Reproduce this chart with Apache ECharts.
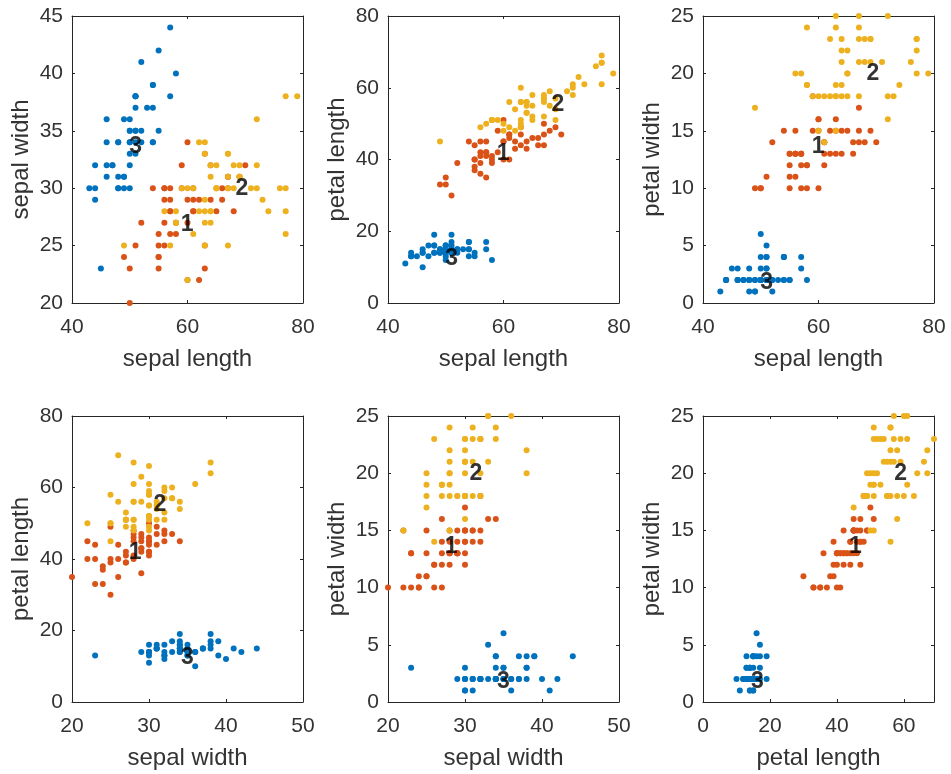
<!DOCTYPE html>
<html>
<head>
<meta charset="utf-8">
<script src="https://cdn.jsdelivr.net/npm/echarts@6/dist/echarts.min.js"></script>
<style>html,body{margin:0;padding:0;background:#fff}#c{width:951px;height:774px}</style>
</head>
<body>
<div id="c"></div>
<script>
// Iris measurements (mm), by species
const setosaSepalLength = [51,49,47,46,50,54,46,50,44,49,54,48,48,43,58,57,54,51,57,51,54,51,46,51,48,50,50,52,52,47,48,54,52,55,49,50,55,49,44,51,50,45,44,50,51,48,51,46,53,50];
const setosaSepalWidth  = [35,30,32,31,36,39,34,34,29,31,37,34,30,30,40,44,39,35,38,38,34,37,36,33,34,30,34,35,34,32,31,34,41,42,31,32,35,36,30,34,35,23,32,35,38,30,38,32,37,33];
const setosaPetalLength = [14,14,13,15,14,17,14,15,14,15,15,16,14,11,12,15,13,14,17,15,17,15,10,17,19,16,16,15,14,16,16,15,15,14,15,12,13,14,13,15,13,13,13,16,19,14,16,14,15,14];
const setosaPetalWidth  = [2,2,2,2,2,4,3,2,2,1,2,2,1,1,2,4,4,3,3,3,2,4,2,5,2,2,4,2,2,2,2,4,1,2,2,2,2,1,2,2,3,3,2,6,4,3,2,2,2,2];

const versicolorSepalLength = [70,64,69,55,65,57,63,49,66,52,50,59,60,61,56,67,56,58,62,56,59,61,63,61,64,66,68,67,60,57,55,55,58,60,54,60,67,63,56,55,55,61,58,50,56,57,57,62,51,57];
const versicolorSepalWidth  = [32,32,31,23,28,28,33,24,29,27,20,30,22,29,29,31,30,27,22,25,32,28,25,28,29,30,28,30,29,26,24,24,27,27,30,34,31,23,30,25,26,30,26,23,27,30,29,29,25,28];
const versicolorPetalLength = [47,45,49,40,46,45,47,33,46,39,35,42,40,47,36,44,45,41,45,39,48,40,49,47,43,44,48,50,45,35,38,37,39,51,45,45,47,44,41,40,44,46,40,33,42,42,42,43,30,41];
const versicolorPetalWidth  = [14,15,15,13,15,13,16,10,13,14,10,15,10,14,13,14,15,10,15,11,18,13,15,12,13,14,14,17,15,10,11,10,12,16,15,16,15,13,13,13,12,14,12,10,13,12,13,13,11,13];

const virginicaSepalLength = [63,58,71,63,65,76,49,73,67,72,65,64,68,57,58,64,65,77,77,60,69,56,77,63,67,72,62,61,64,72,74,79,64,63,61,77,63,64,60,69,67,69,58,68,67,67,63,65,62,59];
const virginicaSepalWidth  = [33,27,30,29,30,30,25,29,25,36,32,27,30,25,28,32,30,38,26,22,32,28,28,27,33,32,28,30,28,30,28,38,28,28,26,30,34,31,30,31,31,31,27,32,33,30,25,30,34,30];
const virginicaPetalLength = [60,51,59,56,58,66,45,63,58,61,51,53,55,50,51,53,55,67,69,50,57,49,67,49,57,60,48,49,56,58,61,64,56,51,56,61,56,55,48,54,56,51,51,59,57,52,50,52,54,51];
const virginicaPetalWidth  = [25,19,21,18,22,21,17,18,18,25,20,19,21,20,24,23,18,22,23,15,23,20,20,18,21,18,18,18,21,16,19,20,22,15,14,23,24,18,18,21,24,23,19,23,25,23,19,20,23,18];

// cluster centre labels (text placed at these positions)
const clusterNames = ['1', '2', '3'];
const cluster1Centre = [59.0, 27.5, 43.9, 14.3];
const cluster2Centre = [68.5, 30.7, 57.4, 20.7];
const cluster3Centre = [50.1, 34.3, 14.6, 2.5];

// variable names and tick settings
const variableNames = ['sepal length', 'sepal width', 'petal length', 'petal width'];
const xTicks = { 0: [40, 80, 20], 1: [20, 50, 10], 2: [0, 69, 20] };
const yTicks = { 1: [20, 45, 5], 2: [0, 80, 20], 3: [0, 25, 5] };

const pairs = [[0,1],[0,2],[0,3],[1,2],[1,3],[2,3]];
const gridLefts = [72, 388, 703];
const gridTops = [16, 416];
const gridHeights = [287, 286];

const groups = [
  { color: '#0072BD', cols: [setosaSepalLength, setosaSepalWidth, setosaPetalLength, setosaPetalWidth] },
  { color: '#D95319', cols: [versicolorSepalLength, versicolorSepalWidth, versicolorPetalLength, versicolorPetalWidth] },
  { color: '#EDB120', cols: [virginicaSepalLength, virginicaSepalWidth, virginicaPetalLength, virginicaPetalWidth] }
];
const centres = [cluster1Centre, cluster2Centre, cluster3Centre];

const FONT = 'Liberation Sans, Arial, sans-serif';
const AX = '#262626';

const grids = [], xAxes = [], yAxes = [], series = [];
pairs.forEach((p, i) => {
  const row = Math.floor(i / 3), col = i % 3;
  grids.push({ left: gridLefts[col], top: gridTops[row], width: 231, height: gridHeights[row] });
  const xt = xTicks[p[0]], yt = yTicks[p[1]];
  const common = {
    type: 'value', gridIndex: i, splitLine: { show: false },
    axisLine: { show: true, onZero: false, lineStyle: { color: AX, width: 1 } },
    axisTick: { show: true, inside: true, length: 3, lineStyle: { color: AX } }
  };
  xAxes.push(Object.assign({}, common, {
    position: 'bottom', min: xt[0], max: xt[1], interval: xt[2],
    name: variableNames[p[0]], nameLocation: 'middle', nameGap: 44,
    nameTextStyle: { fontFamily: FONT, fontSize: 24, color: '#333' },
    axisLabel: { fontFamily: FONT, fontSize: 21, color: '#333', margin: 14, showMaxLabel: xt[1] % xt[2] === 0 }
  }));
  xAxes.push(Object.assign({}, common, {
    position: 'top', min: xt[0], max: xt[1], interval: xt[2], axisLabel: { show: false }
  }));
  yAxes.push(Object.assign({}, common, {
    position: 'left', min: yt[0], max: yt[1], interval: yt[2],
    name: variableNames[p[1]], nameLocation: 'middle', nameGap: 39,
    nameTextStyle: { fontFamily: FONT, fontSize: 24, color: '#333' },
    axisLabel: { fontFamily: FONT, fontSize: 21, color: '#333', margin: 9 }
  }));
  yAxes.push(Object.assign({}, common, {
    position: 'right', min: yt[0], max: yt[1], interval: yt[2], axisLabel: { show: false }
  }));
  groups.forEach(g => {
    series.push({
      type: 'scatter', xAxisIndex: 2 * i, yAxisIndex: 2 * i,
      symbolSize: 6, itemStyle: { color: g.color, opacity: 1 },
      data: g.cols[p[0]].map((v, k) => [v, g.cols[p[1]][k]]),
      silent: true, animation: false
    });
  });
  series.push({
    type: 'scatter', xAxisIndex: 2 * i, yAxisIndex: 2 * i, z: 10,
    symbolSize: 0, silent: true, animation: false,
    data: centres.map((c, k) => ({ value: [c[p[0]], c[p[1]]], name: clusterNames[k] })),
    label: { show: true, position: 'right', distance: 0, offset: [-1, 8], formatter: '{b}',
      fontFamily: FONT, fontWeight: 'bold', fontSize: 23, color: '#000' }
  });
});

const chart = echarts.init(document.getElementById('c'), null, { renderer: 'canvas' });
chart.setOption({ animation: false, grid: grids, xAxis: xAxes, yAxis: yAxes, series: series });
</script>
</body>
</html>
